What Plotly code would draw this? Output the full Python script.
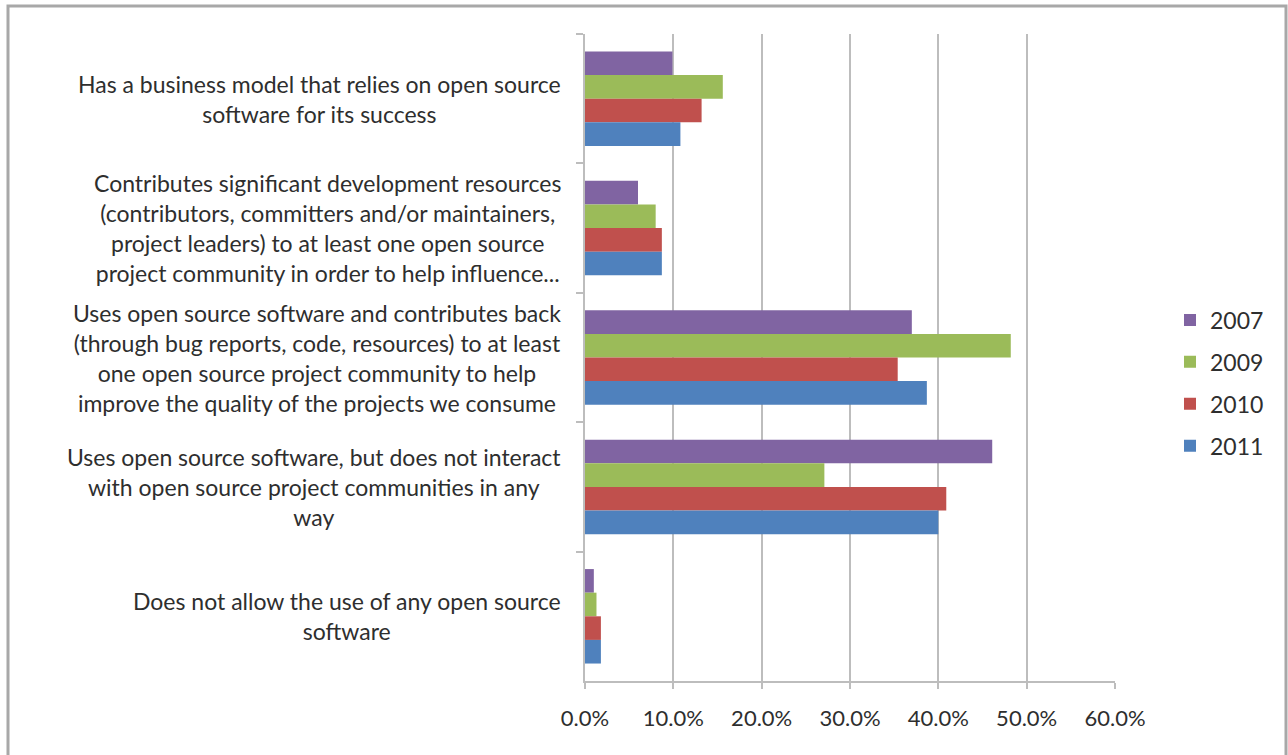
import plotly.graph_objects as go

# Survey answers (category axis, top to bottom)
categories = [
    "Has a business model that relies on open source<br>software for its success",
    "Contributes significant development resources<br>(contributors, committers and/or maintainers,<br>project leaders) to at least one open source<br>project community in order to help influence...",
    "Uses open source software and contributes back<br>(through bug reports, code, resources) to at least<br>one open source project community to help<br>improve the quality of the projects we consume",
    "Uses open source software, but does not interact<br>with open source project communities in any<br>way",
    "Does not allow the use of any open source<br>software",
]

years = ["2007", "2009", "2010", "2011"]

# Share of respondents (%) per year, in category order
pct_2007 = [9.9, 6.0, 37.0, 46.1, 1.0]
pct_2009 = [15.6, 8.0, 48.2, 27.1, 1.3]
pct_2010 = [13.2, 8.7, 35.4, 40.9, 1.8]
pct_2011 = [10.8, 8.7, 38.7, 40.0, 1.8]

x_ticks = [0, 10, 20, 30, 40, 50, 60]
x_tick_labels = ["0.0%", "10.0%", "20.0%", "30.0%", "40.0%", "50.0%", "60.0%"]

colors = {"2007": "#8064A2", "2009": "#9BBB59", "2010": "#C0504D", "2011": "#4F81BD"}
series = {"2007": pct_2007, "2009": pct_2009, "2010": pct_2010, "2011": pct_2011}

W, H = 1288, 755
L, R, T, B = 585, 173, 34, 74
plot_w = W - L - R
plot_h = H - T - B

FONT = "Lato, 'Open Sans', sans-serif"
TEXT = "#2e2e2e"

fig = go.Figure()
for i, yr in enumerate(years):
    fig.add_trace(go.Bar(
        y=categories,
        x=series[yr],
        name=yr,
        orientation="h",
        marker=dict(color=colors[yr], line=dict(width=0)),
        legendgroup=yr,
    ))

# Category labels: centred multi-line text to the left of the axis
annotations = []
for cat in categories:
    annotations.append(dict(
        x=(563 - L) / plot_w, xref="paper",
        y=cat, yref="y",
        xanchor="right", yanchor="middle",
        align="center",
        text=cat,
        showarrow=False,
        font=dict(family=FONT, size=23, color=TEXT),
    ))

def px_x(p):
    return (p - L) / plot_w

def px_y(p):
    return (H - B - p) / plot_h

# Outer chart frame
shapes = [dict(
    type="rect", xref="paper", yref="paper",
    x0=px_x(8), x1=px_x(1286), y0=px_y(800), y1=px_y(6),
    line=dict(color="#A8A8A8", width=3), fillcolor="rgba(0,0,0,0)",
    layer="below",
)]

fig.update_layout(
    width=W, height=H,
    margin=dict(l=L, r=R, t=T, b=B),
    paper_bgcolor="white",
    plot_bgcolor="white",
    barmode="group",
    bargap=0.27,
    bargroupgap=0,
    font=dict(family=FONT, size=22, color=TEXT),
    showlegend=True,
    legend=dict(
        x=px_x(1170), xanchor="left",
        y=px_y(383), yanchor="middle",
        font=dict(family=FONT, size=23, color=TEXT),
        traceorder="grouped",
        tracegroupgap=9,
        bgcolor="rgba(0,0,0,0)",
        itemclick=False,
    ),
    xaxis=dict(
        range=[0, 60],
        tickvals=x_ticks,
        ticktext=x_tick_labels,
        showgrid=True,
        gridcolor="#BDBDBD",
        gridwidth=1.5,
        zeroline=False,
        showline=True,
        linecolor="#BDBDBD",
        linewidth=2,
        ticks="outside",
        ticklen=6,
        tickcolor="#BDBDBD",
        tickwidth=1.5,
        ticklabelstandoff=11,
        tickfont=dict(family=FONT, size=22, color=TEXT),
        fixedrange=True,
    ),
    yaxis=dict(
        autorange="reversed",
        type="category",
        showticklabels=False,
        showgrid=False,
        zeroline=False,
        showline=True,
        linecolor="#BDBDBD",
        linewidth=2,
        ticks="outside",
        tickson="boundaries",
        ticklen=7,
        tickcolor="#BDBDBD",
        tickwidth=1.5,
        fixedrange=True,
    ),
    annotations=annotations,
    shapes=shapes,
)

fig.write_html("out.html")
